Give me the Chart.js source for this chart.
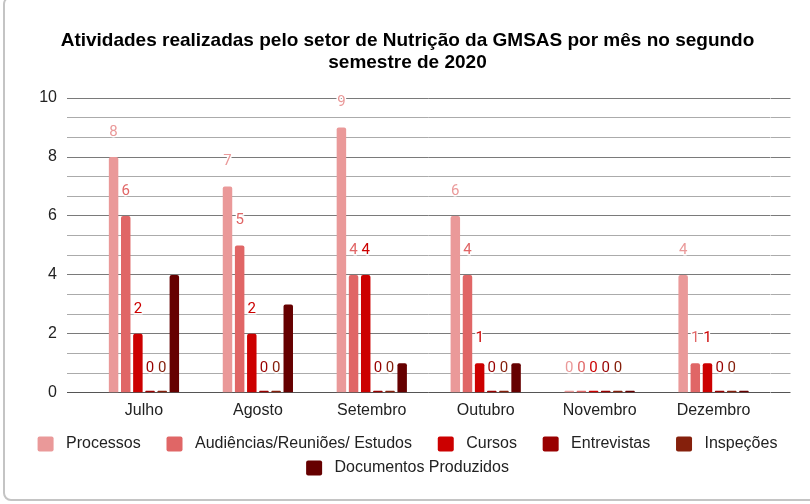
<!DOCTYPE html>
<html>
<head>
<meta charset="utf-8">
<script src="https://cdn.jsdelivr.net/npm/chart.js@4.4.1/dist/chart.umd.min.js"></script>
<style>
  html, body { margin: 0; padding: 0; background: #fff; }
  #wrap { position: relative; width: 810px; height: 504px; overflow: hidden; }
  #frame { position: absolute; left: 3px; top: -4px; width: 830px; height: 505px;
           border: 2px solid #c4c4c4; border-radius: 8px; box-sizing: border-box; pointer-events: none; }
  canvas { position: absolute; left: 0; top: 0; }
</style>
</head>
<body>
<div id="wrap">
  <canvas id="grafico" width="810" height="504"></canvas>
  <div id="frame"></div>
</div>
<script>
// Dados do gráfico
const meses = ['Julho', 'Agosto', 'Setembro', 'Outubro', 'Novembro', 'Dezembro'];
const processos = [8, 7, 9, 6, 0, 4];
const audiencias = [6, 5, 4, 4, 0, 1];
const cursos = [2, 2, 4, 1, 0, 1];
const entrevistas = [0, 0, 0, 0, 0, 0];
const inspecoes = [0, 0, 0, 0, 0, 0];
const documentos = [4, 3, 1, 1, 0, 0];
const yTicks = [0, 2, 4, 6, 8, 10];

const titulo = ['Atividades realizadas pelo setor de Nutrição da GMSAS por mês no segundo', 'semestre de 2020'];

// séries que mostram o rótulo de valor (Documentos não mostra)
const series = [
    { label: 'Processos', data: processos, cor: '#ea9999', rotulo: true },
    { label: 'Audiências/Reuniões/ Estudos', data: audiencias, cor: '#e06666', rotulo: true },
    { label: 'Cursos', data: cursos, cor: '#cc0000', rotulo: true },
    { label: 'Entrevistas', data: entrevistas, cor: '#990000', rotulo: true },
    { label: 'Inspeções', data: inspecoes, cor: '#85200c', rotulo: true },
    { label: 'Documentos Produzidos', data: documentos, cor: '#660000', rotulo: false }
];

const ehMaior = v => yTicks.some(t => Math.abs(t - v) < 1e-3);

// Rótulos de valor acima das barras (com contorno branco)
const rotulosValor = {
    id: 'rotulosValor',
    afterDatasetsDraw(chart) {
        const ctx = chart.ctx;
        const y = chart.scales.y;
        ctx.save();
        ctx.font = '15px Roboto';
        ctx.textAlign = 'center';
        ctx.textBaseline = 'middle';
        ctx.lineJoin = 'round';
        ctx.lineWidth = 3;
        ctx.strokeStyle = '#ffffff';
        series.forEach((s, i) => {
            if (!s.rotulo) return;
            chart.getDatasetMeta(i).data.forEach((bar, j) => {
                const txt = String(s.data[j]);
                const py = y.getPixelForValue(s.data[j]) - 25;
                ctx.strokeText(txt, bar.x, py);
                ctx.fillStyle = s.cor;
                ctx.fillText(txt, bar.x, py);
            });
        });
        ctx.restore();
    }
};

const corGrade = c => {
    const v = c.tick ? c.tick.value : 0;
    if (Math.abs(v) < 1e-3) return '#555555';
    return ehMaior(v) ? '#7a7a7a' : '#ababab';
};

// espaços finais da legenda (para afastar os itens; o último de cada linha fica sem)
const espacoFinal = ['    ', '    ', '    ', '    ', '', ''];

const ctx = document.getElementById('grafico').getContext('2d');
new Chart(ctx, {
    type: 'bar',
    data: {
        labels: meses,
        datasets: series.map(s => ({
            label: s.label,
            data: s.data,
            backgroundColor: s.cor,
            borderWidth: 0,
            borderRadius: { topLeft: 2, topRight: 2 },
            borderSkipped: 'bottom',
            minBarLength: 2,
            barPercentage: 0.78,
            categoryPercentage: 0.64
        }))
    },
    options: {
        responsive: false,
        animation: false,
        layout: { padding: { left: 5, right: 0, top: 30, bottom: 18 } },
        scales: {
            x: {
                grid: { display: false },
                border: { display: false },
                afterFit: s => { s.height += 8; },
                ticks: { color: '#222', font: { family: 'Liberation Sans', size: 16 }, padding: 0 }
            },
            y: {
                min: 0,
                max: 10,
                afterFit: s => { s.width = 82; },
                border: { display: false },
                grid: { color: corGrade, lineWidth: 1, tickLength: 20 },
                ticks: {
                    stepSize: 2 / 3,
                    autoSkip: false,
                    maxTicksLimit: 30,
                    padding: 10,
                    color: '#222',
                    font: { family: 'Liberation Sans', size: 16 },
                    callback: v => ehMaior(v) ? Math.round(v) : ''
                }
            },
            yDir: {
                position: 'right',
                min: 0,
                max: 10,
                afterFit: s => { s.width = 39.5; },
                border: { display: false },
                grid: { color: corGrade, drawOnChartArea: false, tickLength: 20 },
                ticks: { display: false, autoSkip: false, stepSize: 2 / 3, maxTicksLimit: 30 }
            }
        },
        plugins: {
            title: {
                display: true,
                text: titulo,
                color: '#000',
                font: { family: 'Liberation Sans', size: 19, weight: 'bold', lineHeight: 1.16 },
                padding: { top: 0, bottom: 24 }
            },
            legend: {
                position: 'bottom',
                labels: {
                    color: '#222',
                    font: { family: 'Liberation Sans', size: 16 },
                    boxWidth: 16,
                    boxHeight: 15,
                    padding: 8,
                    useBorderRadius: true,
                    borderRadius: 2,
                    generateLabels: chart => Chart.defaults.plugins.legend.labels.generateLabels(chart)
                        .map((it, i) => Object.assign(it, { text: ' ' + it.text + espacoFinal[i] }))
                }
            },
            tooltip: { enabled: false }
        }
    },
    plugins: [rotulosValor]
});
</script>
</body>
</html>
